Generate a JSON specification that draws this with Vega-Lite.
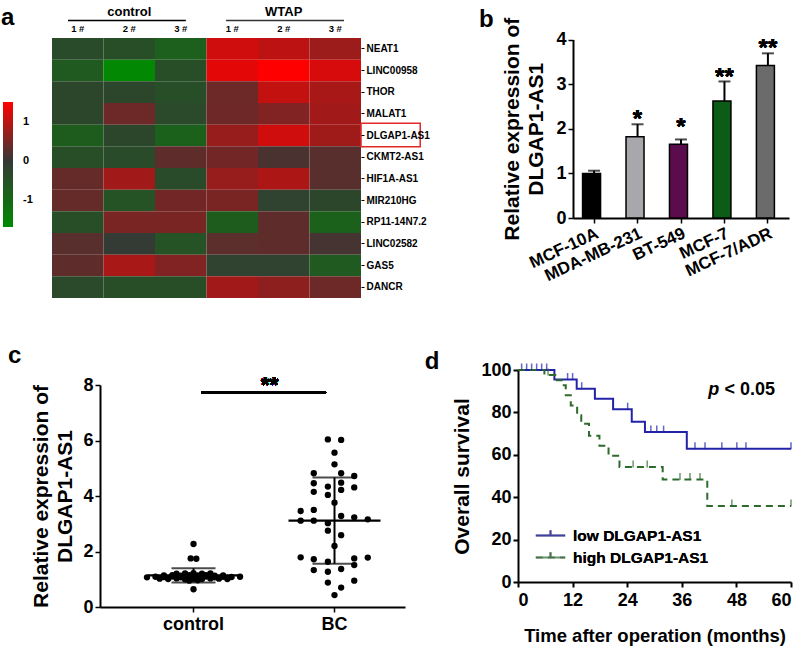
{
"$schema":"https://vega.github.io/schema/vega-lite/v6.json",
"width":800,"height":646,"autosize":"none","padding":0,"background":"white",
"config":{"font":"Liberation Sans","view":{"stroke":null},
 "axis":{"labelFont":"Liberation Sans","titleFont":"Liberation Sans","labelFontWeight":"bold","titleFontWeight":"bold","labelColor":"#000","titleColor":"#000","domainColor":"#000","tickColor":"#000","grid":false},
 "legend":{"labelFont":"Liberation Sans","labelColor":"#000","labelFontWeight":"bold"},
 "text":{"font":"Liberation Sans","fontWeight":"bold","color":"#000"}},
"datasets":{
 "heat":[
  {"gene":"NEAT1","sample":"C1","value":-0.4},{"gene":"NEAT1","sample":"C2","value":-0.45},{"gene":"NEAT1","sample":"C3","value":-0.8},{"gene":"NEAT1","sample":"W1","value":1.15},{"gene":"NEAT1","sample":"W2","value":1.0},{"gene":"NEAT1","sample":"W3","value":0.75},
  {"gene":"LINC00958","sample":"C1","value":-0.7},{"gene":"LINC00958","sample":"C2","value":-1.65},{"gene":"LINC00958","sample":"C3","value":-0.45},{"gene":"LINC00958","sample":"W1","value":1.3},{"gene":"LINC00958","sample":"W2","value":1.5},{"gene":"LINC00958","sample":"W3","value":1.2},
  {"gene":"THOR","sample":"C1","value":-0.3},{"gene":"THOR","sample":"C2","value":-0.3},{"gene":"THOR","sample":"C3","value":-0.45},{"gene":"THOR","sample":"W1","value":0.4},{"gene":"THOR","sample":"W2","value":1.05},{"gene":"THOR","sample":"W3","value":0.85},
  {"gene":"MALAT1","sample":"C1","value":-0.3},{"gene":"MALAT1","sample":"C2","value":0.4},{"gene":"MALAT1","sample":"C3","value":-0.35},{"gene":"MALAT1","sample":"W1","value":0.42},{"gene":"MALAT1","sample":"W2","value":0.55},{"gene":"MALAT1","sample":"W3","value":0.8},
  {"gene":"DLGAP1-AS1","sample":"C1","value":-0.75},{"gene":"DLGAP1-AS1","sample":"C2","value":-0.3},{"gene":"DLGAP1-AS1","sample":"C3","value":-0.85},{"gene":"DLGAP1-AS1","sample":"W1","value":0.72},{"gene":"DLGAP1-AS1","sample":"W2","value":1.15},{"gene":"DLGAP1-AS1","sample":"W3","value":0.78},
  {"gene":"CKMT2-AS1","sample":"C1","value":-0.45},{"gene":"CKMT2-AS1","sample":"C2","value":-0.4},{"gene":"CKMT2-AS1","sample":"C3","value":0.3},{"gene":"CKMT2-AS1","sample":"W1","value":0.45},{"gene":"CKMT2-AS1","sample":"W2","value":0.15},{"gene":"CKMT2-AS1","sample":"W3","value":0.25},
  {"gene":"HIF1A-AS1","sample":"C1","value":0.35},{"gene":"HIF1A-AS1","sample":"C2","value":0.8},{"gene":"HIF1A-AS1","sample":"C3","value":-0.4},{"gene":"HIF1A-AS1","sample":"W1","value":0.72},{"gene":"HIF1A-AS1","sample":"W2","value":0.88},{"gene":"HIF1A-AS1","sample":"W3","value":0.25},
  {"gene":"MIR210HG","sample":"C1","value":0.35},{"gene":"MIR210HG","sample":"C2","value":-0.55},{"gene":"MIR210HG","sample":"C3","value":0.45},{"gene":"MIR210HG","sample":"W1","value":0.5},{"gene":"MIR210HG","sample":"W2","value":-0.2},{"gene":"MIR210HG","sample":"W3","value":-0.3},
  {"gene":"RP11-14N7.2","sample":"C1","value":-0.45},{"gene":"RP11-14N7.2","sample":"C2","value":0.5},{"gene":"RP11-14N7.2","sample":"C3","value":0.5},{"gene":"RP11-14N7.2","sample":"W1","value":-0.75},{"gene":"RP11-14N7.2","sample":"W2","value":0.3},{"gene":"RP11-14N7.2","sample":"W3","value":-0.85},
  {"gene":"LINC02582","sample":"C1","value":0.25},{"gene":"LINC02582","sample":"C2","value":-0.05},{"gene":"LINC02582","sample":"C3","value":-0.55},{"gene":"LINC02582","sample":"W1","value":0.28},{"gene":"LINC02582","sample":"W2","value":0.3},{"gene":"LINC02582","sample":"W3","value":0.12},
  {"gene":"GAS5","sample":"C1","value":0.3},{"gene":"GAS5","sample":"C2","value":0.85},{"gene":"GAS5","sample":"C3","value":0.55},{"gene":"GAS5","sample":"W1","value":-0.2},{"gene":"GAS5","sample":"W2","value":-0.2},{"gene":"GAS5","sample":"W3","value":-0.7},
  {"gene":"DANCR","sample":"C1","value":-0.35},{"gene":"DANCR","sample":"C2","value":-0.45},{"gene":"DANCR","sample":"C3","value":-0.45},{"gene":"DANCR","sample":"W1","value":0.8},{"gene":"DANCR","sample":"W2","value":0.65},{"gene":"DANCR","sample":"W3","value":0.4}
 ],
 "bars":[
  {"cell":"MCF-10A","mean":1.0,"upper":1.06},
  {"cell":"MDA-MB-231","mean":1.82,"upper":2.1},
  {"cell":"BT-549","mean":1.65,"upper":1.76},
  {"cell":"MCF-7","mean":2.62,"upper":3.06},
  {"cell":"MCF-7/ADR","mean":3.42,"upper":3.69}
 ],
 "expr":[
  {"group":"control","value":1.07,"dx":-0.33},{"group":"control","value":1.09,"dx":-0.27},{"group":"control","value":1.08,"dx":-0.21},{"group":"control","value":1.10,"dx":-0.15},{"group":"control","value":1.07,"dx":-0.09},{"group":"control","value":1.09,"dx":-0.03},{"group":"control","value":1.08,"dx":0.03},{"group":"control","value":1.10,"dx":0.09},{"group":"control","value":1.07,"dx":0.15},{"group":"control","value":1.09,"dx":0.21},{"group":"control","value":1.08,"dx":0.27},{"group":"control","value":1.09,"dx":0.33},
  {"group":"control","value":1.02,"dx":-0.24},{"group":"control","value":1.01,"dx":-0.18},{"group":"control","value":1.03,"dx":-0.12},{"group":"control","value":1.0,"dx":-0.06},{"group":"control","value":1.02,"dx":0},{"group":"control","value":1.01,"dx":0.06},{"group":"control","value":1.03,"dx":0.12},{"group":"control","value":1.02,"dx":0.18},{"group":"control","value":1.01,"dx":0.24},
  {"group":"control","value":1.14,"dx":-0.21},{"group":"control","value":1.15,"dx":-0.15},{"group":"control","value":1.13,"dx":-0.09},{"group":"control","value":1.15,"dx":-0.03},{"group":"control","value":1.14,"dx":0.03},{"group":"control","value":1.15,"dx":0.09},{"group":"control","value":1.13,"dx":0.15},{"group":"control","value":1.14,"dx":0.21},
  {"group":"control","value":1.2,"dx":-0.12},{"group":"control","value":1.21,"dx":-0.06},{"group":"control","value":1.22,"dx":0},{"group":"control","value":1.2,"dx":0.06},{"group":"control","value":1.21,"dx":0.12},
  {"group":"control","value":0.95,"dx":-0.03},{"group":"control","value":0.96,"dx":0.03},
  {"group":"control","value":2.27,"dx":0},{"group":"control","value":1.75,"dx":-0.02},{"group":"control","value":1.74,"dx":0.02},{"group":"control","value":0.64,"dx":0},
  {"group":"BC","value":6.04,"dx":-0.047},{"group":"BC","value":6.02,"dx":0.047},{"group":"BC","value":5.56,"dx":0},{"group":"BC","value":5.14,"dx":0},{"group":"BC","value":4.82,"dx":-0.147},{"group":"BC","value":4.82,"dx":0.047},{"group":"BC","value":4.72,"dx":0.14},{"group":"BC","value":4.46,"dx":-0.147},{"group":"BC","value":4.34,"dx":-0.047},{"group":"BC","value":4.48,"dx":0.047},{"group":"BC","value":4.31,"dx":0.14},{"group":"BC","value":4.15,"dx":-0.147},{"group":"BC","value":4.04,"dx":-0.047},{"group":"BC","value":4.22,"dx":0.047},{"group":"BC","value":3.76,"dx":0},{"group":"BC","value":3.46,"dx":-0.24},{"group":"BC","value":3.50,"dx":-0.147},{"group":"BC","value":3.11,"dx":-0.24},{"group":"BC","value":3.11,"dx":-0.147},{"group":"BC","value":3.02,"dx":-0.047},{"group":"BC","value":3.28,"dx":0.047},{"group":"BC","value":3.23,"dx":0.14},{"group":"BC","value":3.16,"dx":0.236},{"group":"BC","value":2.75,"dx":-0.047},{"group":"BC","value":2.59,"dx":0.047},{"group":"BC","value":2.20,"dx":0},{"group":"BC","value":1.79,"dx":-0.24},{"group":"BC","value":1.72,"dx":-0.147},{"group":"BC","value":1.63,"dx":-0.047},{"group":"BC","value":1.75,"dx":0.14},{"group":"BC","value":1.51,"dx":0.14},{"group":"BC","value":1.78,"dx":0.236},{"group":"BC","value":1.33,"dx":-0.147},{"group":"BC","value":1.27,"dx":-0.047},{"group":"BC","value":1.37,"dx":0.047},{"group":"BC","value":0.88,"dx":-0.047},{"group":"BC","value":0.95,"dx":0.14},{"group":"BC","value":0.70,"dx":0.047},{"group":"BC","value":0.43,"dx":0}
 ],
 "km":[
  {"group":"low DLGAP1-AS1","t":0,"s":100},{"group":"low DLGAP1-AS1","t":8.0,"s":95.5},{"group":"low DLGAP1-AS1","t":12.9,"s":91.2},{"group":"low DLGAP1-AS1","t":16.9,"s":86.4},{"group":"low DLGAP1-AS1","t":20.9,"s":81.5},{"group":"low DLGAP1-AS1","t":25.0,"s":75.6},{"group":"low DLGAP1-AS1","t":27.9,"s":70.7},{"group":"low DLGAP1-AS1","t":37.1,"s":62.8},{"group":"low DLGAP1-AS1","t":60,"s":62.8},
  {"group":"high DLGAP1-AS1","t":0,"s":100},{"group":"high DLGAP1-AS1","t":5.8,"s":97.6},{"group":"high DLGAP1-AS1","t":8.2,"s":95.2},{"group":"high DLGAP1-AS1","t":9.6,"s":92.8},{"group":"high DLGAP1-AS1","t":10.5,"s":88.1},{"group":"high DLGAP1-AS1","t":11.6,"s":83.3},{"group":"high DLGAP1-AS1","t":13.0,"s":78.6},{"group":"high DLGAP1-AS1","t":13.9,"s":74.6},{"group":"high DLGAP1-AS1","t":15.6,"s":69.0},{"group":"high DLGAP1-AS1","t":17.9,"s":64.3},{"group":"high DLGAP1-AS1","t":19.9,"s":59.5},{"group":"high DLGAP1-AS1","t":22.3,"s":54.2},{"group":"high DLGAP1-AS1","t":31.8,"s":48.3},{"group":"high DLGAP1-AS1","t":41.6,"s":35.8},{"group":"high DLGAP1-AS1","t":60,"s":35.8}
 ],
 "censor":[
  {"group":"low DLGAP1-AS1","t":0.8,"s":100},{"group":"low DLGAP1-AS1","t":1.9,"s":100},{"group":"low DLGAP1-AS1","t":3.0,"s":100},{"group":"low DLGAP1-AS1","t":4.1,"s":100},{"group":"low DLGAP1-AS1","t":5.2,"s":100},{"group":"low DLGAP1-AS1","t":6.3,"s":100},
  {"group":"low DLGAP1-AS1","t":10.9,"s":95.5},{"group":"low DLGAP1-AS1","t":12.0,"s":95.5},{"group":"low DLGAP1-AS1","t":14.0,"s":91.2},{"group":"low DLGAP1-AS1","t":24.1,"s":81.5},
  {"group":"low DLGAP1-AS1","t":29.2,"s":70.7},{"group":"low DLGAP1-AS1","t":30.5,"s":70.7},{"group":"low DLGAP1-AS1","t":32.0,"s":70.7},
  {"group":"low DLGAP1-AS1","t":38.9,"s":62.8},{"group":"low DLGAP1-AS1","t":41.1,"s":62.8},{"group":"low DLGAP1-AS1","t":44.8,"s":62.8},{"group":"low DLGAP1-AS1","t":48.1,"s":62.8},{"group":"low DLGAP1-AS1","t":50.1,"s":62.8},{"group":"low DLGAP1-AS1","t":60,"s":62.8},
  {"group":"high DLGAP1-AS1","t":6.6,"s":97.6},{"group":"high DLGAP1-AS1","t":25.3,"s":54.2},{"group":"high DLGAP1-AS1","t":28.4,"s":54.2},
  {"group":"high DLGAP1-AS1","t":35.6,"s":48.3},{"group":"high DLGAP1-AS1","t":37.8,"s":48.3},{"group":"high DLGAP1-AS1","t":40.0,"s":48.3},
  {"group":"high DLGAP1-AS1","t":47.0,"s":35.8},{"group":"high DLGAP1-AS1","t":60,"s":35.8}
 ]
},
"layer":[
 {
  "layer":[
   {"data":{"name":"heat"},"mark":{"type":"rect"},
    "encoding":{
     "x":{"field":"sample","type":"nominal","bandPosition":0,"sort":["C1","C2","C3","W1","W2","W3"],"scale":{"type":"band","range":[52,361],"paddingInner":0,"paddingOuter":0},"axis":{"orient":"top","offset":-38,"title":null,"domain":false,"ticks":false,"labelAngle":0,"labelFontSize":9.5,"labelPadding":5,"bandPosition":0.5,"labelExpr":"slice(datum.value,1) + ' #'"}},
     "x2":{"field":"sample","bandPosition":1},
     "y":{"field":"gene","type":"nominal","sort":["NEAT1","LINC00958","THOR","MALAT1","DLGAP1-AS1","CKMT2-AS1","HIF1A-AS1","MIR210HG","RP11-14N7.2","LINC02582","GAS5","DANCR"],"scale":{"type":"band","range":[38,298],"paddingInner":0,"paddingOuter":0},"axis":{"orient":"right","offset":-439,"title":null,"domain":false,"tickSize":3,"labelFontSize":10,"labelPadding":2}},
     "color":{"field":"value","type":"quantitative","scale":{"domain":[-1.7,0,1.5],"range":["#008a00","#363836","#ff0000"],"interpolate":"rgb"},
      "legend":{"orient":"none","legendX":3,"legendY":102,"title":null,"direction":"vertical","gradientLength":125,"gradientThickness":10,"gradientStrokeWidth":0,"values":[-1,0,1],"labelFontSize":11,"labelOffset":10,"padding":0,"labelExpr":"'' + datum.value"}}
    }},
   {"data":{"values":[{}]},
    "layer":[
     {"mark":{"type":"text","fontSize":13,"align":"center","baseline":"alphabetic"},"encoding":{"x":{"datum":1.5,"type":"quantitative","scale":{"domain":[0,6],"range":[52,361],"nice":false,"zero":false},"axis":null},"y":{"datum":-1.0,"type":"quantitative","scale":{"domain":[0,12],"range":[38,298],"nice":false,"zero":false},"axis":null},"text":{"value":"control"}}},
     {"mark":{"type":"text","fontSize":13,"align":"center","baseline":"alphabetic"},"encoding":{"x":{"datum":4.5,"type":"quantitative","axis":null},"y":{"datum":-1.0,"type":"quantitative","axis":null},"text":{"value":"WTAP"}}},
     {"mark":{"type":"rule","color":"#000","strokeWidth":1.5},"encoding":{"x":{"datum":0.31,"type":"quantitative","axis":null},"x2":{"datum":2.6},"y":{"datum":-0.81,"type":"quantitative","axis":null}}},
     {"mark":{"type":"rule","color":"#333","strokeWidth":1.5},"encoding":{"x":{"datum":3.38,"type":"quantitative","axis":null},"x2":{"datum":5.67},"y":{"datum":-0.81,"type":"quantitative","axis":null}}},
     {"mark":{"type":"rect","filled":false,"color":"#e02828","strokeWidth":1.5},"encoding":{"x":{"datum":6.0,"type":"quantitative","axis":null},"x2":{"datum":7.15},"y":{"datum":3.94,"type":"quantitative","axis":null},"y2":{"datum":5.02}}},
     {"mark":{"type":"text","fontSize":24,"align":"left","baseline":"alphabetic"},"encoding":{"x":{"datum":-0.99,"type":"quantitative","axis":null},"y":{"datum":-0.6,"type":"quantitative","axis":null},"text":{"value":"a"}}},
     {"mark":{"type":"text","fontSize":24,"align":"left","baseline":"alphabetic"},"encoding":{"x":{"datum":8.29,"type":"quantitative","axis":null},"y":{"datum":-0.52,"type":"quantitative","axis":null},"text":{"value":"b"}}},
     {"mark":{"type":"text","fontSize":24,"align":"left","baseline":"alphabetic"},"encoding":{"x":{"datum":-0.854,"type":"quantitative","axis":null},"y":{"datum":14.99,"type":"quantitative","axis":null},"text":{"value":"c"}}},
     {"mark":{"type":"text","fontSize":24,"align":"left","baseline":"alphabetic"},"encoding":{"x":{"datum":7.24,"type":"quantitative","axis":null},"y":{"datum":15.29,"type":"quantitative","axis":null},"text":{"value":"d"}}}
    ]}
  ],
  "resolve":{"scale":{"x":"independent","y":"independent"},"axis":{"x":"independent","y":"independent"}}
 },
 {
  "data":{"name":"bars"},
  "layer":[
   {"mark":{"type":"bar","stroke":"#000","strokeWidth":1.5},
    "encoding":{
     "x":{"field":"cell","type":"nominal","sort":["MCF-10A","MDA-MB-231","BT-549","MCF-7","MCF-7/ADR"],"scale":{"range":[573,789],"paddingInner":0.47,"paddingOuter":0.22},"axis":{"orient":"bottom","offset":-428,"title":null,"labelAngle":-25,"labelAlign":"right","labelBaseline":"top","labelFontSize":17,"tickSize":5,"tickWidth":1.5,"domainWidth":2,"labelPadding":2}},
     "y":{"field":"mean","type":"quantitative","scale":{"domain":[0,4],"range":[218,39.5],"nice":false,"zero":false},"axis":{"orient":"left","offset":-573,"title":["Relative expression of","DLGAP1-AS1"],"titleFontSize":21,"titleLineHeight":24,"titlePadding":9,"values":[0,1,2,3,4],"format":"d","labelFontSize":18,"tickSize":5,"tickWidth":1.5,"domainWidth":2,"labelPadding":2}},
     "color":{"field":"cell","type":"nominal","scale":{"domain":["MCF-10A","MDA-MB-231","BT-549","MCF-7","MCF-7/ADR"],"range":["#000000","#a8a8ac","#5b0c4c","#0b5c16","#6b6b6b"]},"legend":null}
    }},
   {"mark":{"type":"rule","color":"#000","strokeWidth":2},"encoding":{"x":{"field":"cell","type":"nominal","sort":["MCF-10A","MDA-MB-231","BT-549","MCF-7","MCF-7/ADR"]},"y":{"field":"mean","type":"quantitative"},"y2":{"field":"upper"}}},
   {"mark":{"type":"tick","color":"#000","thickness":2,"size":12},"encoding":{"x":{"field":"cell","type":"nominal","sort":["MCF-10A","MDA-MB-231","BT-549","MCF-7","MCF-7/ADR"]},"y":{"field":"upper","type":"quantitative"}}},
   {"mark":{"type":"text","fontSize":24,"align":"center","baseline":"alphabetic"},"encoding":{"x":{"datum":"MDA-MB-231"},"y":{"datum":2.04},"text":{"value":"*"}}},
   {"mark":{"type":"text","fontSize":24,"align":"center","baseline":"alphabetic"},"encoding":{"x":{"datum":"BT-549"},"y":{"datum":1.85},"text":{"value":"*"}}},
   {"mark":{"type":"text","fontSize":24,"align":"center","baseline":"alphabetic"},"encoding":{"x":{"datum":"MCF-7"},"y":{"datum":2.99},"text":{"value":"**"}}},
   {"mark":{"type":"text","fontSize":24,"align":"center","baseline":"alphabetic"},"encoding":{"x":{"datum":"MCF-7/ADR"},"y":{"datum":3.64},"text":{"value":"**"}}}
  ]
 },
 {
  "data":{"name":"expr"},
  "layer":[
   {"mark":{"type":"circle","size":40,"opacity":1,"color":"#000"},
    "encoding":{
     "x":{"field":"group","type":"nominal","sort":["control","BC"],"scale":{"range":[100,405],"paddingInner":0,"paddingOuter":0.0816,"align":1},"axis":{"orient":"bottom","offset":-39,"title":null,"labelAngle":0,"labelFontSize":18,"tickSize":5,"tickWidth":1.5,"domainWidth":2,"labelPadding":3}},
     "xOffset":{"field":"dx","type":"quantitative","scale":{"domain":[-0.5,0.5],"range":[0,141]}},
     "y":{"field":"value","type":"quantitative","title":["Relative expression of","DLGAP1-AS1"],"scale":{"domain":[0,8],"range":[607,385],"nice":false,"zero":false},"axis":{"orient":"left","offset":-100,"titleFontSize":21,"titleLineHeight":24,"titlePadding":7,"values":[0,2,4,6,8],"format":"d","labelFontSize":18,"tickSize":5,"tickWidth":1.5,"domainWidth":2,"labelPadding":2}}
    }},
   {"mark":{"type":"tick","color":"#000","thickness":2.2,"size":92},"encoding":{"x":{"field":"group","type":"nominal","sort":["control","BC"]},"y":{"aggregate":"mean","field":"value","type":"quantitative","title":["Relative expression of","DLGAP1-AS1"]}}},
   {"mark":{"type":"errorbar","extent":"stdev","ticks":true,"size":44,"thickness":2,"color":"#000"},"encoding":{"x":{"field":"group","type":"nominal","sort":["control","BC"]},"y":{"field":"value","type":"quantitative","title":["Relative expression of","DLGAP1-AS1"]}}},
   {"mark":{"type":"rule","color":"#000","strokeWidth":2},"encoding":{"x":{"datum":"control","bandPosition":0.555},"x2":{"datum":"BC","bandPosition":0.44},"y":{"datum":7.72}}},
   {"mark":{"type":"text","fontSize":22,"align":"center","baseline":"alphabetic"},"encoding":{"x":{"datum":"control","bandPosition":1.04},"y":{"datum":7.75},"text":{"value":"**"}}}
  ]
 },
 {
  "layer":[
   {"data":{"name":"km"},"mark":{"type":"line","interpolate":"step-after","strokeWidth":2},
    "encoding":{
     "x":{"field":"t","type":"quantitative","scale":{"domain":[0,60],"range":[518,791],"nice":false,"zero":false},"axis":{"orient":"bottom","offset":-64,"values":[0,12,24,36,48,60],"title":"Time after operation (months)","titleFontSize":18.5,"titlePadding":17,"labelFontSize":18,"tickSize":5,"tickWidth":2,"domainWidth":2,"labelPadding":4}},
     "y":{"field":"s","type":"quantitative","scale":{"domain":[0,100],"range":[582,370],"nice":false,"zero":false},"axis":{"orient":"left","offset":-518,"values":[0,20,40,60,80,100],"title":"Overall survival","titleFontSize":21,"titlePadding":8,"labelFontSize":18,"tickSize":5,"tickWidth":2,"domainWidth":2,"labelPadding":2}},
     "color":{"field":"group","type":"nominal","scale":{"domain":["low DLGAP1-AS1","high DLGAP1-AS1"],"range":["#2323a8","#2d6b2d"]},"legend":{"orient":"none","legendX":539,"legendY":524,"title":null,"labelFontSize":15.5,"symbolType":"M-1.4,0H1.4M0,0V-0.5","symbolSize":441,"symbolStrokeWidth":2,"rowPadding":2,"labelOffset":11,"padding":0}},
     "strokeDash":{"field":"group","type":"nominal","scale":{"domain":["low DLGAP1-AS1","high DLGAP1-AS1"],"range":[[1,0],[7,5]]},"legend":{"orient":"none","legendX":539,"legendY":524,"title":null,"labelFontSize":15.5,"symbolType":"M-1.4,0H1.4M0,0V-0.5","symbolSize":441,"symbolStrokeWidth":2,"rowPadding":2,"labelOffset":11,"padding":0}}
    }},
   {"data":{"name":"censor"},"mark":{"type":"tick","orient":"vertical","size":7,"thickness":1.5,"yOffset":-3},
    "encoding":{"x":{"field":"t","type":"quantitative"},"y":{"field":"s","type":"quantitative"},"color":{"field":"group","type":"nominal"}}},
   {"data":{"values":[{}]},"mark":{"type":"text","fontSize":18,"fontStyle":"italic","align":"left","baseline":"alphabetic"},"encoding":{"x":{"datum":41.8,"type":"quantitative"},"y":{"datum":88.2,"type":"quantitative"},"text":{"value":"p"}}},
   {"data":{"values":[{}]},"mark":{"type":"text","fontSize":18,"align":"left","baseline":"alphabetic"},"encoding":{"x":{"datum":45.4,"type":"quantitative"},"y":{"datum":88.2,"type":"quantitative"},"text":{"value":"< 0.05"}}}
  ]
 }
],
"resolve":{"scale":{"x":"independent","y":"independent","color":"independent"},"axis":{"x":"independent","y":"independent"},"legend":{"color":"independent"}}
}
